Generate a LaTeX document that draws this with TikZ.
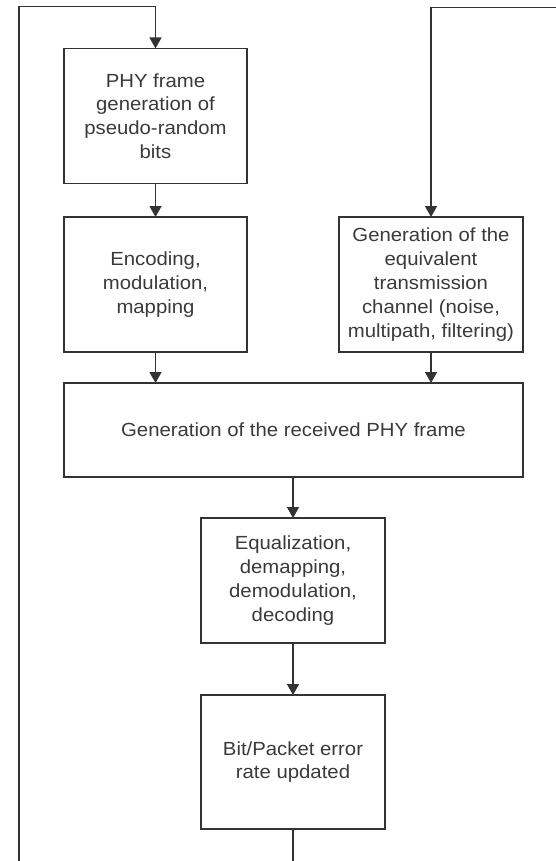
\documentclass[tikz,border=0pt]{standalone}
\usepackage{fontspec}
\setmainfont{Liberation Sans}[FakeStretch=1.07]
\usetikzlibrary{arrows.meta}
\definecolor{ink}{HTML}{333333}
\definecolor{txt}{HTML}{3A3A3A}
\begin{document}
\begin{tikzpicture}[x=1pt,y=-1pt,
  every node/.style={inner sep=0pt,outer sep=0pt},
  blk/.style={draw=ink,line width=1.4pt,fill=white,align=center,text=txt,
    font=\fontsize{19}{23.8}\selectfont},
  link/.style={draw=ink,line width=1.4pt},
  flow/.style={link,-{Triangle[length=11pt,width=12pt]}}]
\useasboundingbox (0,0) rectangle (556,861);

% processing blocks
\node[blk,minimum width=183pt,minimum height=135pt] (gen) at (155.5,116)
  {PHY frame\\generation of\\pseudo-random\\bits};
\node[blk,minimum width=183pt,minimum height=135pt] (enc) at (155.5,284.5)
  {Encoding,\\modulation,\\mapping};
\node[blk,minimum width=184pt,minimum height=135pt] (chan) at (431,284.5)
  {Generation of the\\equivalent\\transmission\\channel (noise,\\multipath, filtering)};
\node[blk,minimum width=459pt,minimum height=94pt] (rx) at (293.5,430)
  {Generation of the received PHY frame};
\node[blk,minimum width=184pt,minimum height=125pt] (eq) at (293,580.5)
  {Equalization,\\demapping,\\demodulation,\\decoding};
\node[blk,minimum width=184pt,minimum height=134pt] (ber) at (293,762)
  {Bit/Packet error\\rate updated};

% loop and input ends
\coordinate (loopB) at (19,861);
\coordinate (loopT) at (19,6.5);
\coordinate (chIn) at (556,7.5);
\coordinate (berOut) at (293,861);

% connectors
\draw[flow] (loopB) -- (loopT) -| (gen.north);
\draw[flow] (chIn) -| (chan.north);
\draw[flow] (gen.south) -- (enc.north);
\draw[flow] (enc.south) -- (enc.south |- rx.north);
\draw[flow] (chan.south) -- (chan.south |- rx.north);
\draw[flow] (eq.north |- rx.south) -- (eq.north);
\draw[flow] (eq.south) -- (ber.north);
\draw[link] (ber.south) -- (berOut);
\end{tikzpicture}
\end{document}
